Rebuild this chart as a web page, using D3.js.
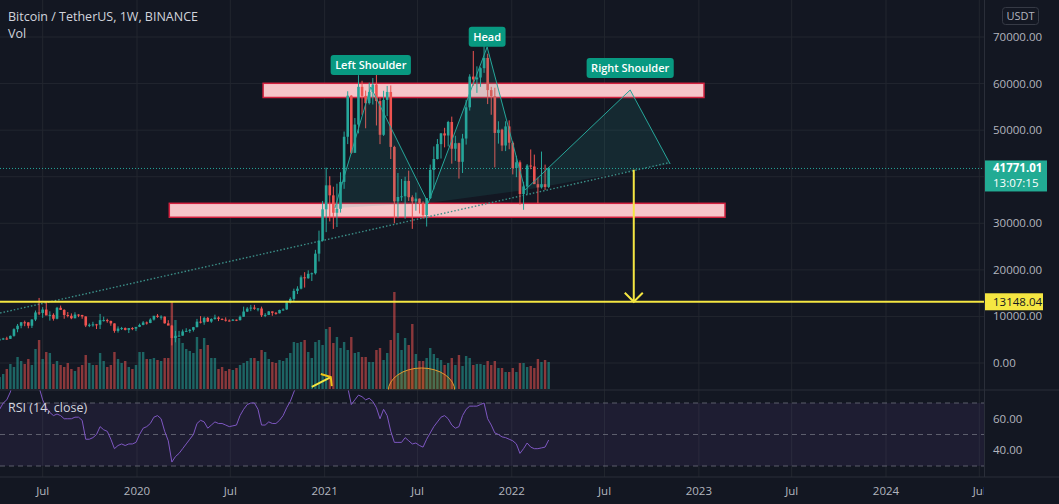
<!DOCTYPE html>
<html>
<head>
<meta charset="utf-8">
<script src="https://cdn.jsdelivr.net/npm/d3@7"></script>
<style>
  body { margin: 0; background: #131722; overflow: hidden; }
  text { font-family: "Open Sans", "Noto Sans", sans-serif; }
</style>
</head>
<body>
<script>
// weekly BTC/USDT candles, first week starts Mon 2019-04-08
var firstWeek = Date.UTC(2019, 3, 8);

var opens = [5060,5070,5260,5190,5830,7260,8000,8740,8730,8000,9330,10850,10750,11480,10200,10340,9500,11860,11400,10300,
  10140,9600,10400,10300,10000,8050,8200,8300,8220,9200,9210,9030,8500,6900,7400,7500,7110,7500,7380,7760,
  8180,8700,8600,9330,10150,9900,9960,8520,8030,5360,5830,5880,6770,6900,7120,7700,8880,8720,9680,8900,
  9450,9760,9460,9300,9120,9070,9300,9200,9930,11050,11680,11900,11650,11700,10250,10330,11080,10770,10670,11380,
  11500,13030,13760,15480,15960,18400,18190,19150,19270,23480,26280,33000,38150,36000,32260,33100,38890,48580,57400,45130,
  51200,59300,57350,55800,58200,59770,56250,49000,56500,58200,46400,34700,35650,35800,39100,35600,34700,35300,34250,31780,
  35400,41460,43800,47000,49300,48850,51750,46000,47200,43200,48200,54900,61500,60900,61300,63300,65500,58600,57300,49400,
  50100,46700,50800,47300,41860,43100,36280,37900,42400,42200,38400,37700,38400,37800];
var highs = [5470,5400,5630,5900,7450,8380,8800,9100,8740,9400,11270,13970,12000,13200,11100,10670,12050,12330,11530,10950,
  10650,10900,10480,10350,10020,8500,8850,8400,10540,9950,9500,9100,8500,7860,7750,7640,7520,7700,7600,8460,
  9000,8900,9600,10000,10500,10250,9990,9190,8180,6900,6900,7200,7470,7300,7750,9470,10070,9950,9900,9600,
  10380,10000,9600,9800,9350,9450,9330,10200,12100,12000,12480,12480,11800,12100,10700,11170,11080,10960,11450,11720,
  13350,14100,15960,16480,18800,19500,19900,19420,24300,28420,34800,41950,40100,37850,38500,40950,49700,58350,57500,52600,
  61800,60600,58500,60200,61200,64850,57000,58450,59500,59600,46650,40800,39500,40000,41300,36000,36600,35300,34700,35400,
  42600,46500,48100,49400,50500,52000,52900,48800,47300,49200,56500,62000,67000,63700,63500,69000,66400,59300,59100,51900,
  50300,51900,52100,47600,44500,43500,38900,42700,45850,44750,39800,45400,42600,42000];
var lows = [4930,4980,4970,5160,5650,6600,7460,7900,7450,7520,9000,10300,9700,11050,9100,9100,9370,11380,9500,9800,
  9400,9600,9850,9500,7710,7700,7800,7300,7300,8900,8650,8000,6500,6520,7080,7000,6430,7050,6850,7700,
  8100,8240,8550,9110,9700,9300,8450,8420,3780,4440,5700,5860,6760,6470,6750,7650,8500,8200,8800,8630,
  9300,9000,9200,8900,8900,9050,9000,9120,9930,10950,11130,11420,11100,9880,9850,10280,10140,10370,10650,11200,
  11400,12800,13200,14800,15800,16200,18100,17600,19000,21800,26100,28100,30400,28800,29200,32300,37400,47000,44900,45100,
  49300,53300,50400,55500,55500,51000,47000,48750,53000,43800,30000,31200,34800,31000,34800,28800,32700,32100,31000,29300,
  35200,37300,43700,43900,46300,46500,42800,43400,39600,40800,46900,54200,59500,58000,59300,62300,55600,53300,42000,47100,
  45500,45500,45900,40500,39900,34000,32900,36200,41600,39500,34300,37450,37150,37550];
var closes = [5070,5260,5190,5830,7260,8000,8740,8730,8000,9330,10850,10750,11480,10200,10340,9500,11860,11400,10300,10140,
  9600,10400,10300,10000,8050,8200,8300,8220,9200,9210,9030,8500,6900,7400,7500,7110,7500,7380,7760,8180,
  8700,8600,9330,10150,9900,9960,8520,8030,5360,5830,5880,6770,6900,7120,7700,8880,8720,9680,8900,9450,
  9760,9460,9300,9120,9070,9300,9200,9930,11050,11680,11900,11650,11700,10250,10330,11080,10770,10670,11380,11500,
  13030,13760,15480,15960,18400,18190,19150,19270,23480,26280,33000,38150,36000,32260,33100,38890,48580,57400,45130,51200,
  59300,57350,55800,58200,59770,56250,49000,56500,58200,46400,34700,35650,35800,39100,35600,34700,35300,34250,31780,35400,
  41460,43800,47000,49300,48850,51750,46000,47200,43200,48200,54900,61500,60900,61300,63300,65500,58600,57300,49400,50100,
  46700,50800,47300,41860,43100,36280,37900,42400,42200,38400,37700,38400,37800,41771.01];
// volume, thousand BTC per week
var volumes = [120,150,200,250,220,320,280,250,300,240,400,490,300,370,360,250,280,240,220,260,
  200,180,220,240,340,260,240,240,360,280,220,240,370,300,260,280,220,200,240,370,
  370,300,300,310,290,280,310,310,870,690,510,460,400,380,360,520,400,510,440,310,
  310,200,220,180,200,190,210,240,260,280,310,310,280,390,370,300,270,260,290,280,
  310,360,470,460,470,490,370,310,470,490,440,600,620,460,520,410,470,390,520,360,
  370,320,320,270,270,390,410,290,360,490,970,560,390,510,440,650,350,280,280,310,
  410,350,310,290,240,260,310,240,340,230,330,310,240,250,250,240,280,240,280,210,
  210,170,170,210,170,260,260,220,230,210,300,270,290,270];
// RSI (14, close)
var rsi = [66,70,72,77,86,88,88,86,84,86,88,80,72,67,64,62,63,62,60,60,
  60,61,61,59,47,47,48,50,55,53,52,47,41,43,44,43,44,44,45,50,
  54,55,57,61,62,60,52,46,32.5,36,38,41,44,47,50,57,59,58,54,56,
  58,57,57,56,55,55.5,56,62,66,69,70,70,66,56,56,58,57,57,59,62,
  67,71,77,82,86,84,85,85,88,90,92,90,84,79,80,83,88,80,69,72,
  75,74,72,73,71,67,60,66,62,52,45,45,45,48,46,44,44.6,43,42,47,
  51,55,58,61,62,60,56,54,55,62,66,68,68,68,69,70,60,56,51,50,
  48.5,48,47,46,44,38,41,44.6,42,41,41,41.5,42,46.5];

var priceTicks = [0,10000,20000,30000,40000,50000,60000,70000];
var rsiTicks = [40,60];
var rsiBands = [70,50,30];
var timeTicks = ["2019-07-01","2020-01-01","2020-07-01","2021-01-01","2021-07-01","2022-01-01",
  "2022-07-01","2023-01-01","2023-07-01","2024-01-01","2024-07-01"];
var timeLabels = ["Jul","2020","Jul","2021","Jul","2022","Jul","2023","Jul","2024","Jul"];

// drawings
var zones = [
  {start:"2020-09-03", end:"2023-01-11", top:60060, bottom:57010},
  {start:"2020-03-04", end:"2023-02-21", top:34290, bottom:31290}
];
var hsDates = ["2021-01-21","2021-04-01","2021-07-22","2021-11-14","2022-01-27","2022-08-20","2022-11-06"];
var hsPrices = [33280,59270,34360,67850,37150,58620,42730];
var hsLabels = [
  {text:"Left Shoulder", date:"2021-04-01", price:61840},
  {text:"Head", date:"2021-11-14", price:67900},
  {text:"Right Shoulder", date:"2022-08-20", price:61200}
];
var trendDates = ["2019-04-09","2022-11-01"];
var trendPrices = [10737,42950];
var supportLevel = 13148.04;
var lastPrice = 41771.01;
var countdown = "13:07:15";
var targetDate = "2022-08-27";
var targetPrices = [41500, 13148.04];
var volArrowDates = ["2020-12-07","2021-01-13"];
var volArrowPrices = [-5150,-3010];
var arcDates = ["2021-05-05","2021-09-12"];
var arcPrices = [-6010,-1070];

var width = 1059, height = 504;
var plotRight = 984, mainBottom = 390, rsiBottom = 477;
var grid = "#22262f", border = "#2a2e39", axisText = "#b2b5be";
var up = "#26a69a", down = "#ef5350";

var svg = d3.select("body").append("svg")
  .attr("width", width).attr("height", height)
  .style("background", "#131722");

var dates = closes.map((d, i) => new Date(firstWeek + i * 7 * 864e5));
var pd = d3.utcParse("%Y-%m-%d");

var x = d3.scaleUtc()
  .domain([pd("2020-01-01"), pd("2024-01-01")])
  .range([137, 886]);
var y = d3.scaleLinear().domain([0, 70000]).range([363, 37]);
var yVol = d3.scaleLinear().domain([0, 1000]).range([389, 289]);
var yRsi = d3.scaleLinear().domain([30, 70]).range([466, 403]);

var defs = svg.append("defs");
defs.append("clipPath").attr("id", "mainClip").append("rect")
  .attr("x", 0).attr("y", 0).attr("width", plotRight).attr("height", mainBottom);
defs.append("clipPath").attr("id", "rsiClip").append("rect")
  .attr("x", 0).attr("y", mainBottom).attr("width", plotRight).attr("height", rsiBottom - mainBottom);
defs.append("clipPath").attr("id", "timeClip").append("rect")
  .attr("x", 0).attr("y", rsiBottom).attr("width", plotRight).attr("height", height - rsiBottom);

// grid
var tDates = timeTicks.map(pd);
svg.append("g").selectAll("line").data(tDates).enter().append("line")
  .attr("x1", d => x(d)).attr("x2", d => x(d))
  .attr("y1", 0).attr("y2", rsiBottom)
  .attr("stroke", grid);
svg.append("g").selectAll("line").data(priceTicks).enter().append("line")
  .attr("x1", 0).attr("x2", plotRight)
  .attr("y1", d => y(d)).attr("y2", d => y(d))
  .attr("stroke", grid);

var main = svg.append("g").attr("clip-path", "url(#mainClip)");

// volume
main.append("g").selectAll("rect").data(volumes).enter().append("rect")
  .attr("x", (d, i) => x(dates[i]) - 1.2)
  .attr("width", 2.4)
  .attr("y", d => yVol(d))
  .attr("height", d => yVol(0) - yVol(d))
  .attr("fill", (d, i) => closes[i] >= opens[i] ? up : down)
  .attr("opacity", 0.55);

// pink zones
main.append("g").selectAll("rect").data(zones).enter().append("rect")
  .attr("x", d => x(pd(d.start)))
  .attr("width", d => x(pd(d.end)) - x(pd(d.start)))
  .attr("y", d => y(d.top))
  .attr("height", d => y(d.bottom) - y(d.top))
  .attr("fill", "#f6c5c9")
  .attr("stroke", "#d3213f")
  .attr("stroke-width", 1.5);

// trendline
main.append("line")
  .attr("x1", x(pd(trendDates[0]))).attr("y1", y(trendPrices[0]))
  .attr("x2", x(pd(trendDates[1]))).attr("y2", y(trendPrices[1]))
  .attr("stroke", "#3b8f88").attr("stroke-width", 1.4)
  .attr("stroke-dasharray", "1.5,2");

// last price dotted line
main.append("line")
  .attr("x1", 0).attr("x2", plotRight)
  .attr("y1", y(lastPrice)).attr("y2", y(lastPrice))
  .attr("stroke", up).attr("stroke-width", 1)
  .attr("stroke-dasharray", "1,2");

// candles
var candles = main.append("g").selectAll("g").data(closes).enter().append("g");
candles.append("line")
  .attr("x1", (d, i) => x(dates[i])).attr("x2", (d, i) => x(dates[i]))
  .attr("y1", (d, i) => y(highs[i])).attr("y2", (d, i) => y(lows[i]))
  .attr("stroke", (d, i) => closes[i] >= opens[i] ? up : down);
candles.append("rect")
  .attr("x", (d, i) => x(dates[i]) - 1.3)
  .attr("width", 2.6)
  .attr("y", (d, i) => y(Math.max(opens[i], closes[i])))
  .attr("height", (d, i) => Math.max(1, Math.abs(y(opens[i]) - y(closes[i]))))
  .attr("fill", (d, i) => closes[i] >= opens[i] ? up : down);

// head and shoulders
var hs = hsDates.map((d, i) => [x(pd(d)), y(hsPrices[i])]);
[[0, 1, 2], [2, 3, 4], [4, 5, 6]].forEach(t => {
  main.append("path")
    .attr("d", d3.line()(t.map(k => hs[k])) + "Z")
    .attr("fill", "rgba(38,166,154,0.13)");
});
main.append("path")
  .attr("d", d3.line()(hs))
  .attr("fill", "none").attr("stroke", up).attr("stroke-width", 1);

// yellow level and target arrow
main.append("line")
  .attr("x1", 0).attr("x2", plotRight)
  .attr("y1", y(supportLevel)).attr("y2", y(supportLevel))
  .attr("stroke", "#f5e642").attr("stroke-width", 2);
var tx = x(pd(targetDate));
main.append("line")
  .attr("x1", tx).attr("x2", tx)
  .attr("y1", y(targetPrices[0])).attr("y2", y(targetPrices[1]))
  .attr("stroke", "#f5e642").attr("stroke-width", 2);
main.append("path")
  .attr("d", d3.line()([[tx - 9, y(targetPrices[1]) - 9], [tx, y(targetPrices[1])], [tx + 9, y(targetPrices[1]) - 9]]))
  .attr("fill", "none").attr("stroke", "#f5e642").attr("stroke-width", 2);

// small arrow on volume
var a0 = [x(pd(volArrowDates[0])), y(volArrowPrices[0])];
var a1 = [x(pd(volArrowDates[1])), y(volArrowPrices[1])];
main.append("line")
  .attr("x1", a0[0]).attr("y1", a0[1]).attr("x2", a1[0]).attr("y2", a1[1])
  .attr("stroke", "#f5e642").attr("stroke-width", 2);
main.append("path")
  .attr("d", d3.line()([[a1[0] - 10, a1[1] - 3], a1, [a1[0] + 1, a1[1] + 9]]))
  .attr("fill", "none").attr("stroke", "#f0c419").attr("stroke-width", 2);

// orange arc
var ax0 = x(pd(arcDates[0])), ax1 = x(pd(arcDates[1]));
main.append("ellipse")
  .attr("cx", (ax0 + ax1) / 2).attr("cy", y(arcPrices[0]))
  .attr("rx", (ax1 - ax0) / 2).attr("ry", y(arcPrices[0]) - y(arcPrices[1]))
  .attr("fill", "rgba(255,152,0,0.2)")
  .attr("stroke", "#e69a2e").attr("stroke-width", 1);

// pattern labels
hsLabels.forEach(l => {
  var cx = x(pd(l.date)), by = y(l.price);
  var g = svg.append("g");
  var t = g.append("text")
    .attr("x", cx).attr("y", by - 6)
    .attr("text-anchor", "middle")
    .attr("font-size", "11px").attr("font-weight", 600)
    .attr("fill", "#ffffff").text(l.text);
  var w = t.node().getComputedTextLength() + 9;
  g.insert("rect", "text")
    .attr("x", cx - w / 2).attr("y", by - 20)
    .attr("width", w).attr("height", 20)
    .attr("rx", 3).attr("fill", "#089981");
});

// RSI pane
svg.append("rect")
  .attr("x", 0).attr("width", plotRight)
  .attr("y", yRsi(70)).attr("height", yRsi(30) - yRsi(70))
  .attr("fill", "rgba(126,87,194,0.1)");
svg.append("g").selectAll("line").data(rsiBands).enter().append("line")
  .attr("x1", 0).attr("x2", plotRight)
  .attr("y1", d => yRsi(d)).attr("y2", d => yRsi(d))
  .attr("stroke", "#787b86").attr("stroke-opacity", 0.7)
  .attr("stroke-dasharray", "5,4");
svg.append("g").attr("clip-path", "url(#rsiClip)").append("path")
  .datum(rsi)
  .attr("d", d3.line().x((d, i) => x(dates[i])).y(d => yRsi(d)))
  .attr("fill", "none").attr("stroke", "#7e57c2").attr("stroke-width", 1);

// borders
svg.append("line").attr("x1", 0).attr("x2", width).attr("y1", mainBottom).attr("y2", mainBottom).attr("stroke", border);
svg.append("line").attr("x1", 0).attr("x2", width).attr("y1", rsiBottom).attr("y2", rsiBottom).attr("stroke", border);
svg.append("line").attr("x1", plotRight + 0.5).attr("x2", plotRight + 0.5).attr("y1", 0).attr("y2", rsiBottom).attr("stroke", border);

// price axis (ticks hidden behind the last price label are skipped, as on the chart)
var ly = y(lastPrice);
svg.append("g").selectAll("text")
  .data(priceTicks.filter(d => Math.abs(y(d) - (ly + 7)) > 22))
  .enter().append("text")
  .attr("x", 993).attr("y", d => y(d) + 4)
  .attr("font-size", "11.5px").attr("fill", axisText)
  .text(d => d3.format(".2f")(d));
svg.append("g").selectAll("text").data(rsiTicks).enter().append("text")
  .attr("x", 993).attr("y", d => yRsi(d) + 4)
  .attr("font-size", "11.5px").attr("fill", axisText)
  .text(d => d3.format(".2f")(d));

// time axis
svg.append("g").attr("clip-path", "url(#timeClip)")
  .selectAll("text").data(tDates).enter().append("text")
  .attr("x", d => x(d)).attr("y", 495)
  .attr("text-anchor", "middle")
  .attr("font-size", "11.5px").attr("fill", axisText)
  .text((d, i) => timeLabels[i]);

// USDT badge
svg.append("rect").attr("x", 1002.5).attr("y", 7.5).attr("width", 36).attr("height", 17)
  .attr("rx", 3).attr("fill", "#131722").attr("stroke", "#363a45");
svg.append("text").attr("x", 1020.5).attr("y", 20).attr("text-anchor", "middle")
  .attr("font-size", "11px").attr("fill", axisText).text("USDT");

// last price label
svg.append("rect").attr("x", 985).attr("y", ly - 8).attr("width", 62).attr("height", 31)
  .attr("fill", "#22ab94");
svg.append("text").attr("x", 993).attr("y", ly + 4)
  .attr("font-size", "11.5px").attr("font-weight", 700).attr("fill", "#ffffff")
  .text(d3.format(".2f")(lastPrice));
svg.append("text").attr("x", 993).attr("y", ly + 19)
  .attr("font-size", "11.5px").attr("fill", "#ffffff").text(countdown);

// support label
var sy = y(supportLevel);
svg.append("rect").attr("x", 985).attr("y", sy - 8.5).attr("width", 58).attr("height", 17)
  .attr("fill", "#f5e642");
svg.append("text").attr("x", 993).attr("y", sy + 4)
  .attr("font-size", "11.5px").attr("fill", "#131722").text(d3.format(".2f")(supportLevel));

// legends
svg.append("text").attr("x", 8).attr("y", 21)
  .attr("font-size", "12.5px").attr("fill", "#d1d4dc")
  .text("Bitcoin / TetherUS, 1W, BINANCE");
svg.append("text").attr("x", 8).attr("y", 38)
  .attr("font-size", "12.5px").attr("fill", "#d1d4dc").text("Vol");
svg.append("text").attr("x", 8).attr("y", 412)
  .attr("font-size", "12.5px").attr("fill", "#d1d4dc").text("RSI (14, close)");
</script>
</body>
</html>
